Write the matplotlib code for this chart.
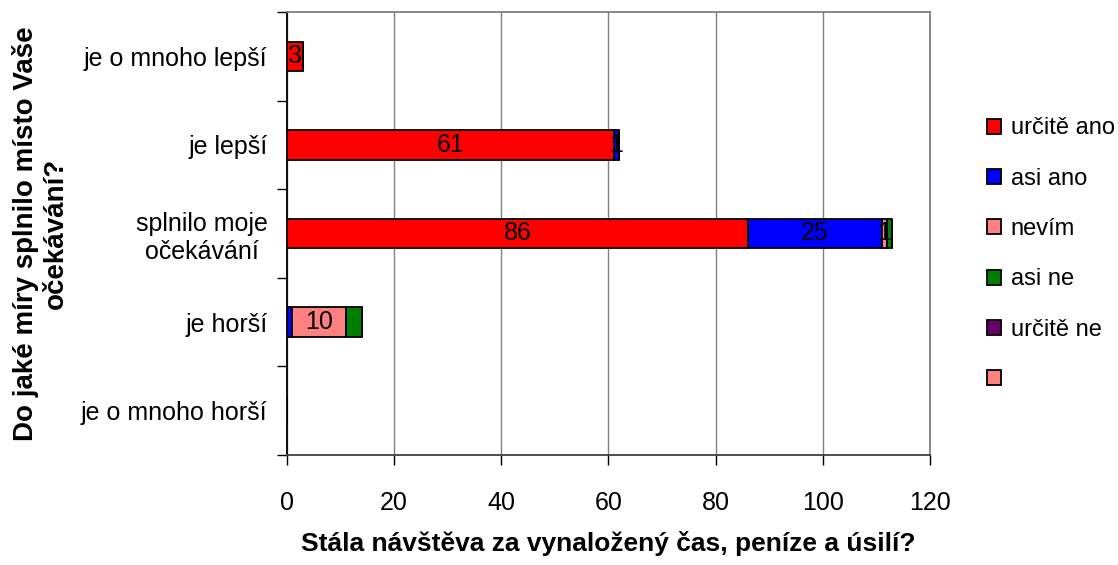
"""Horizontal stacked bars: how the place met visitor expectations"""
import numpy as np
import matplotlib.pyplot as plt

categories = ["je o mnoho lepší", "je lepší", "splnilo moje\nočekávání",
              "je horší", "je o mnoho horší"]
series_names = ["určitě ano", "asi ano", "nevím", "asi ne", "určitě ne", ""]

urcite_ano = [3, 61, 86, 0, 0]
asi_ano = [0, 1, 25, 1, 0]
nevim = [0, 0, 1, 10, 0]
asi_ne = [0, 0, 1, 3, 0]
urcite_ne = [0, 0, 0, 0, 0]
prazdne = [0, 0, 0, 0, 0]

# which segment values were printed in the original chart
show_labels = [[1, 1, 1, 0, 0],
               [0, 1, 1, 0, 0],
               [0, 0, 1, 1, 0],
               [0, 0, 0, 0, 0],
               [0, 0, 0, 0, 0],
               [0, 0, 0, 0, 0]]

colors = ["#FF0000", "#0000FF", "#FF8080", "#008000", "#660066", "#FF8080"]

font = ["Liberation Sans", "DejaVu Sans"]

fig = plt.figure(figsize=(11.18, 5.65), dpi=100)
ax = fig.add_axes([0.2567, 0.1947, 0.5751, 0.7841])

data = np.array([urcite_ano, asi_ano, nevim, asi_ne, urcite_ne, prazdne], dtype=float)
y = np.arange(len(categories))
left = np.zeros(len(categories))
handles = []
for vals, name, col, flags in zip(data, series_names, colors, show_labels):
    bars = ax.barh(y, vals, left=left, height=0.33, color=col, edgecolor="black",
                   linewidth=1.3, zorder=3)
    handles.append(bars)
    for yi, (v, l, f) in enumerate(zip(vals, left, flags)):
        if f and v > 0:
            ax.text(l + v / 2, yi, f"{v:g}", ha="center", va="center",
                    fontsize=18, family=font, zorder=4)
    left += vals

ax.set_xlim(0, 120)
ax.set_ylim(len(categories) - 0.5, -0.5)
ax.set_xticks(np.arange(0, 121, 20))
ax.set_yticks(y)
ax.set_yticklabels(categories, family=font, fontsize=18, multialignment="center")
ax.set_yticks(np.arange(-0.5, len(categories), 1), minor=True)
ax.tick_params(axis="y", which="major", length=0, pad=14)
ax.tick_params(axis="y", which="minor", length=7, width=1, direction="out")
ax.tick_params(axis="x", length=7, width=1, direction="out", pad=19)
for lab in ax.get_xticklabels():
    lab.set_family(font)
    lab.set_fontsize(18)

ax.grid(axis="x", color="#808080", linewidth=1, zorder=0)
ax.spines["left"].set_color("black")
ax.spines["bottom"].set_color("#404040")
ax.spines["top"].set_color("#808080")
ax.spines["right"].set_color("#808080")
for s in ax.spines.values():
    s.set_linewidth(1.3)

ax.set_xlabel("Stála návštěva za vynaložený čas, peníze a úsilí?",
              family=font, fontsize=19, fontweight="bold", va="top")
ax.xaxis.set_label_coords(0.5, -0.172)
ax.set_ylabel("Do jaké míry splnilo místo Vaše\nočekávání?",
              family=font, fontsize=20, fontweight="bold", linespacing=1.15)
ax.yaxis.set_label_coords(-0.34, 0.5)

fig.legend(handles, series_names, loc="center left", bbox_to_anchor=(0.864, 0.55),
           frameon=False, prop={"family": font, "size": 17}, handlelength=0.6,
           handleheight=0.6, handletextpad=0.4, labelspacing=1.2)

plt.savefig("out.png", dpi=100)
